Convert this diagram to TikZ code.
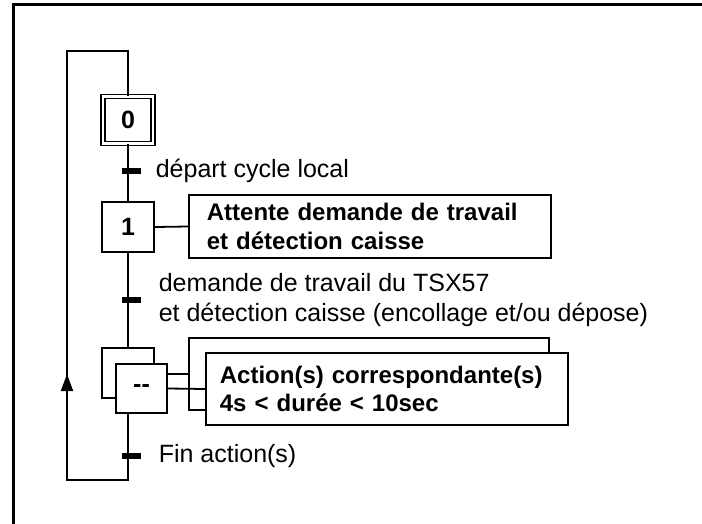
\documentclass[tikz,border=0pt]{standalone}
\usepackage{fontspec}
\setmainfont{Liberation Sans}
\usetikzlibrary{positioning,arrows.meta}
\newcommand{\taille}{\fontsize{25}{30}\selectfont}
\tikzset{
  etape/.style={draw, line width=1.8pt, fill=white, minimum width=52pt, minimum height=50pt, inner sep=0pt, font=\taille\bfseries},
  action/.style={draw, line width=1.8pt, fill=white, anchor=west, align=left, inner xsep=14pt, text width=334pt, font=\fontsize{24}{28.5}\selectfont\bfseries},
  barre/.style={fill=black, minimum width=19pt, minimum height=5.5pt, inner sep=0pt},
  recept/.style={anchor=west, align=left, inner sep=0pt, font=\taille},
}
\begin{document}
\begin{tikzpicture}[x=1pt, y=-1pt, line width=1.8pt]
    \useasboundingbox (0,0) rectangle (702,524);
    % cadre
    \draw[line width=3pt] (13,524) -- (13,5) -- (702,5);

    % etapes
    \node[etape, double, double distance=2.2pt, minimum width=50pt, minimum height=47pt] (e0) at (128,120) {0};
    \node[etape] (e1) at (128,227) {1};
    \node[etape] (e2b) at (128,373) {};
    \node[etape, minimum width=51pt, minimum height=49pt] (e2) at (141.5,388.5) {{-}{-}};

    % actions
    \node[action, inner xsep=18pt, text width=326pt, minimum height=63pt] (a1) at (188,226.5) {Attente demande de travail\\et détection caisse};
    \node[action, text width=332pt, minimum height=72pt] (a2b) at (188,374) {};
    \node[action, minimum height=72pt] (a2) at (205,389) {Action(s) correspondante(s)\\4s < durée < 10sec};

    % liaisons
    \coordinate (haut) at (128,51);
    \coordinate (coin) at (67,51);
    \coordinate (bas) at (128,480);
    \draw (e0.south) -- (e1.north);
    \draw (e1.south) -- (e2b.north);
    \draw (e2.south -| e2b.center) -- (bas) -| (coin) -- (haut) -- (e0.north);
    \draw[-{Triangle[length=17pt,width=12pt]}] (67,410) -- (67,374);
    \draw (e1.east) -- (a1.west);
    \draw (e2.east |- a2b.west) -- (a2b.west);
    \draw (e2.east) -- (a2.west);

    % transitions
    \node[barre] (t1) at (131.5,171) {};
    \node[barre] (t2) at (131.5,300) {};
    \node[barre] (t3) at (131.5,456) {};
    \node[recept, right=13pt of t1] (r1) {départ cycle local};
    \node[recept, right=16pt of t2] (r2) {demande de travail du TSX57\\et détection caisse (encollage et/ou dépose)};
    \node[recept, right=16pt of t3] (r3) {Fin action(s)};
\end{tikzpicture}
\end{document}
